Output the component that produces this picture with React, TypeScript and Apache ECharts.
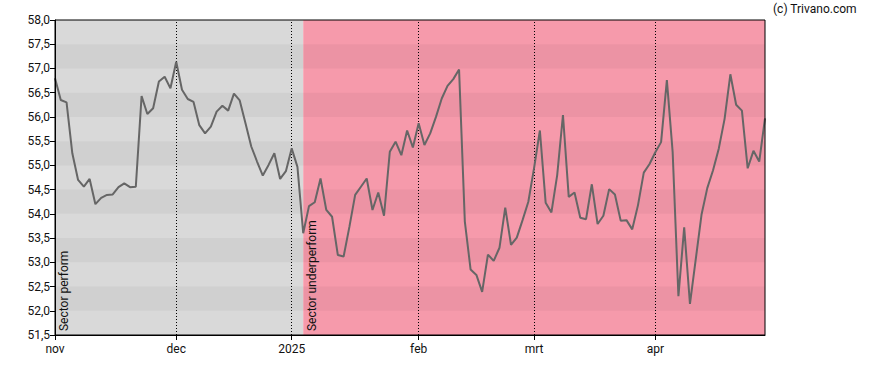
import React, { useEffect, useRef } from 'react';
import * as echarts from 'echarts';

// trading days per month
const novDays = [1, 4, 5, 6, 7, 8, 11, 12, 13, 14, 15, 18, 19, 20, 21, 22, 25, 26, 27, 28, 29];
const decDays = [2, 3, 4, 5, 6, 9, 10, 11, 12, 13, 16, 17, 18, 19, 20, 23, 24, 27, 30, 31];
const janDays = [2, 3, 6, 7, 8, 9, 10, 13, 14, 15, 16, 17, 20, 21, 22, 23, 24, 27, 28, 29, 30, 31];
const febDays = [3, 4, 5, 6, 7, 10, 11, 12, 13, 14, 17, 18, 19, 20, 21, 24, 25, 26, 27, 28];
const marDays = [3, 4, 5, 6, 7, 10, 11, 12, 13, 14, 17, 18, 19, 20, 21, 24, 25, 26, 27, 28, 31];
const aprDays = [1, 2, 3, 4, 7, 8, 9, 10, 11, 14, 15, 16, 17, 22, 23, 24, 25, 28, 29, 30];

const monthBlocks: [string, number[]][] = [
  ['2024-11', novDays],
  ['2024-12', decDays],
  ['2025-01', janDays],
  ['2025-02', febDays],
  ['2025-03', marDays],
  ['2025-04', aprDays],
];

const categories: string[] = monthBlocks.flatMap(([ym, days]) =>
  days.map((d) => `${ym}-${String(d).padStart(2, '0')}`)
);

const tickLabels: Record<string, string> = {
  '2024-11-01': 'nov',
  '2024-12-02': 'dec',
  '2025-01-02': '2025',
  '2025-02-03': 'feb',
  '2025-03-03': 'mrt',
  '2025-04-01': 'apr',
};

const dottedLines = ['2024-12-02', '2025-01-02', '2025-02-03', '2025-03-03', '2025-04-01'];

const values = [
  56.80, 56.35, 56.30, 55.25, 54.70, 54.56, 54.72, 54.20, 54.33, 54.39,
  54.40, 54.55, 54.63, 54.55, 54.56, 56.43, 56.06, 56.18, 56.73, 56.83,
  56.59, 57.14, 56.56, 56.37, 56.31, 55.83, 55.66, 55.80, 56.11, 56.23,
  56.13, 56.48, 56.34, 55.87, 55.39, 55.08, 54.79, 55.01, 55.25, 54.72,
  54.88, 55.35, 54.97, 53.60, 54.16, 54.24, 54.73, 54.08, 53.94, 53.15,
  53.12, 53.73, 54.39, 54.56, 54.73, 54.08, 54.44, 53.96, 55.28, 55.49,
  55.21, 55.72, 55.37, 55.87, 55.42, 55.66, 56.00, 56.38, 56.64, 56.78,
  56.98, 53.84, 52.85, 52.74, 52.39, 53.16, 53.03, 53.30, 54.13, 53.36,
  53.51, 53.87, 54.25, 54.95, 55.72, 54.23, 54.03, 54.80, 56.04, 54.35,
  54.44, 53.92, 53.89, 54.61, 53.79, 53.96, 54.51, 54.40, 53.86, 53.87,
  53.68, 54.18, 54.85, 55.03, 55.27, 55.48, 56.76, 55.28, 52.30, 53.72,
  52.14, 53.06, 53.98, 54.53, 54.90, 55.35, 55.96, 56.88, 56.25, 56.13,
  54.94, 55.30, 55.08, 55.97,
];

const regions = [
  { from: '2024-11-01', to: '2025-01-06', color: '#d9d9d9', label: 'Sector perform' },
  { from: '2025-01-06', to: '2025-04-30', color: '#f69aab', label: 'Sector underperform' },
];

const darkBands: [number, number][] = [
  [57.5, 57.0],
  [56.5, 56.0],
  [55.5, 55.0],
  [54.5, 54.0],
  [53.5, 53.0],
  [52.5, 52.0],
];

const yMin = 51.5;
const yMax = 58.0;
const yStep = 0.5;

const FONT = 'Roboto, "Liberation Sans", Arial, sans-serif';

export default function App() {
  const ref = useRef<HTMLDivElement>(null);

  useEffect(() => {
    if (!ref.current) return;
    const chart = echarts.init(ref.current, undefined, { renderer: 'svg' });

    const option: any = {
      animation: false,
      textStyle: { fontFamily: FONT },
      grid: {
        left: 55,
        right: 123,
        top: 20,
        bottom: 35,
        show: true,
        borderColor: '#000',
        borderWidth: 1,
        backgroundColor: 'transparent',
        z: 10,
      },
      xAxis: {
        type: 'category',
        data: categories,
        boundaryGap: false,
        z: 10,
        axisLine: { show: true, lineStyle: { color: '#000', width: 1 } },
        axisTick: {
          show: true,
          length: 5,
          interval: (_i: number, v: string) => !!tickLabels[v],
          lineStyle: { color: '#000' },
        },
        axisLabel: {
          interval: (_i: number, v: string) => !!tickLabels[v],
          formatter: (v: string) => tickLabels[v] || '',
          color: '#111',
          fontSize: 12,
          fontFamily: FONT,
          margin: 8,
        },
        splitLine: { show: false },
      },
      yAxis: {
        type: 'value',
        min: yMin,
        max: yMax,
        interval: yStep,
        z: 10,
        axisLine: { show: true, lineStyle: { color: '#000', width: 1 } },
        axisTick: { show: true, length: 5, lineStyle: { color: '#000' } },
        axisLabel: {
          formatter: (v: number) => v.toFixed(1).replace('.', ','),
          color: '#111',
          fontSize: 12,
          fontFamily: FONT,
          margin: 5,
        },
        splitLine: { show: false },
      },
      series: [
        {
          type: 'line',
          data: values,
          symbol: 'none',
          z: 3,
          lineStyle: { color: '#666666', width: 2 },
          silent: true,
          markArea: {
            silent: true,
            z: 1,
            label: { show: false },
            emphasis: { disabled: true },
            data: [
              ...regions.map((r) => [
                { xAxis: r.from, itemStyle: { color: r.color } },
                { xAxis: r.to },
              ]),
              ...darkBands.map(([a, b]) => [
                { yAxis: a, itemStyle: { color: 'rgba(0,0,0,0.04)' } },
                { yAxis: b },
              ]),
            ],
          },
          markLine: {
            silent: true,
            z: 2,
            symbol: 'none',
            label: { show: false },
            emphasis: { disabled: true },
            lineStyle: { color: '#000', width: 1, type: [1, 2] },
            data: dottedLines.map((d) => ({ xAxis: d })),
          },
        },
      ],
    };

    chart.setOption(option);

    const yBottom = chart.convertToPixel({ yAxisIndex: 0 }, yMin) as number;
    const graphics: any[] = regions.map((r) => {
      const x0 = chart.convertToPixel({ xAxisIndex: 0 }, categories.indexOf(r.from)) as number;
      return {
        type: 'text',
        x: x0 + 9,
        y: yBottom - 4,
        rotation: Math.PI / 2,
        z: 20,
        silent: true,
        style: {
          text: r.label,
          fill: '#111',
          font: `12px ${FONT}`,
          textAlign: 'left',
          textVerticalAlign: 'middle',
          align: 'left',
          verticalAlign: 'middle',
        },
      };
    });
    graphics.push({
      type: 'text',
      x: 773,
      y: 9,
      z: 20,
      silent: true,
      style: {
        text: '(c) Trivano.com',
        fill: '#111',
        font: `12px ${FONT}`,
        textAlign: 'left',
        textVerticalAlign: 'middle',
        align: 'left',
        verticalAlign: 'middle',
      },
    });
    chart.setOption({ graphic: graphics });

    return () => chart.dispose();
  }, []);

  return (
    <div
      ref={ref}
      style={{ position: 'fixed', left: 0, top: 0, width: 888, height: 370, background: '#fff' }}
    />
  );
}
